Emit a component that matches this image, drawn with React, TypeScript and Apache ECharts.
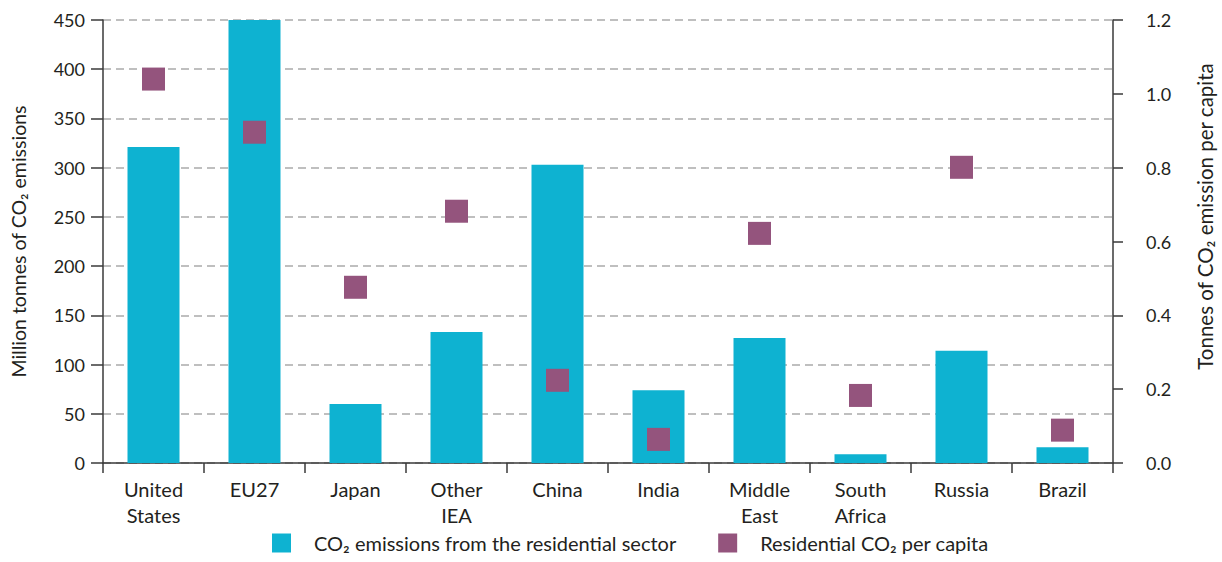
import React, { useEffect, useRef } from "react";
import * as echarts from "echarts";

const categories = ["United\nStates", "EU27", "Japan", "Other\nIEA", "China", "India", "Middle\nEast", "South\nAfrica", "Russia", "Brazil"];
const emissions = [321, 450, 60, 133, 303, 74, 127, 9, 114, 16];
const perCapita = [1.04, 0.896, 0.476, 0.682, 0.224, 0.064, 0.622, 0.183, 0.801, 0.089];
const leftTicks = { min: 0, max: 450, interval: 50 };
const rightTicks = { min: 0, max: 1.2, interval: 0.2 };

const FONT = "Lato";
const TXT = "#231f20";
const AX = "#3a3a3a";

export default function App() {
  const ref = useRef<HTMLDivElement>(null);
  useEffect(() => {
    if (!ref.current) return;
    const chart = echarts.init(ref.current, undefined, { renderer: "svg" });
    chart.setOption({
      animation: false,
      textStyle: { fontFamily: FONT, color: TXT },
      grid: { left: 103, right: 109, top: 20, bottom: 99, containLabel: false, outerBoundsMode: "none" },
      legend: {
        bottom: 4,
        left: 267,
        itemWidth: 19,
        itemHeight: 19,
        itemGap: 42,
        icon: "rect",
        textStyle: { fontFamily: FONT, fontSize: 20, color: TXT, padding: [0, 0, 0, 18] },
        data: [
          { name: "CO₂ emissions from the residential sector", icon: "rect" },
          { name: "Residential CO₂ per capita", icon: "rect" },
        ],
      },
      xAxis: {
        type: "category",
        data: categories,
        boundaryGap: true,
        axisLine: { show: true, lineStyle: { color: AX, width: 1.5 } },
        axisTick: { show: true, length: 10, lineStyle: { color: AX, width: 1.5 } },
        axisLabel: { fontFamily: FONT, fontSize: 20, color: TXT, lineHeight: 26, margin: 13, interval: 0 },
      },
      yAxis: [
        {
          type: "value",
          ...leftTicks,
          name: "Million tonnes of CO₂ emissions",
          nameLocation: "middle",
          nameGap: 75,
          nameRotate: 90,
          nameTextStyle: { fontFamily: FONT, fontSize: 19.5, color: TXT },
          axisLine: { show: true, lineStyle: { color: AX, width: 1.5 } },
          axisTick: { show: true, length: 12, lineStyle: { color: AX, width: 1.5 } },
          axisLabel: { fontFamily: FONT, fontSize: 18, color: TXT, margin: 18 },
          splitLine: { show: true, lineStyle: { color: "#aaaaaa", width: 1.5, type: [8, 5] } },
        },
        {
          type: "value",
          ...rightTicks,
          position: "right",
          name: "Tonnes of CO₂ emission per capita",
          nameLocation: "middle",
          nameGap: 81,
          nameRotate: 90,
          nameTextStyle: { fontFamily: FONT, fontSize: 20.5, color: TXT, padding: [0, 0, 0, 50] },
          axisLine: { show: true, lineStyle: { color: AX, width: 1.5 } },
          axisTick: { show: true, length: 10, lineStyle: { color: AX, width: 1.5 } },
          axisLabel: { fontFamily: FONT, fontSize: 18, color: TXT, margin: 33, formatter: (v: number) => v.toFixed(1) },
          splitLine: { show: false },
        },
      ],
      series: [
        {
          name: "CO₂ emissions from the residential sector",
          type: "bar",
          data: emissions,
          barWidth: 52,
          itemStyle: { color: "#0eb2d1" },
          yAxisIndex: 0,
        },
        {
          name: "Residential CO₂ per capita",
          type: "scatter",
          data: perCapita,
          yAxisIndex: 1,
          symbol: "rect",
          symbolSize: 23,
          itemStyle: { color: "#94547d", opacity: 1 },
          z: 5,
        },
      ],
    });
    return () => chart.dispose();
  }, []);
  return <div ref={ref} style={{ position: "absolute", left: 0, top: 0, width: 1222, height: 562 }} />;
}
